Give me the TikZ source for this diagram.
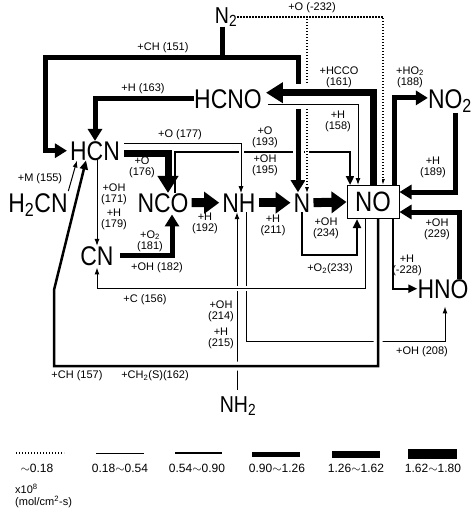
\documentclass[tikz,border=0pt]{standalone}
\usepackage{fontspec}
\setmainfont{Liberation Sans}
\newfontfamily\chemfont[FakeStretch=0.85]{Liberation Sans}
\usetikzlibrary{arrows.meta}

\begin{document}
\begin{tikzpicture}[
  x=1pt, y=-1pt,
  species/.style={font=\chemfont\fontsize{27}{30}\selectfont, inner sep=0pt, anchor=base},
  minor/.style={species, font=\chemfont\fontsize{23}{26}\selectfont},
  nobox/.style={draw, line width=1pt, font=\chemfont\fontsize{28}{30}\selectfont,
                minimum width=52pt, minimum height=33pt, inner sep=0pt},
  lbl/.style={font=\fontsize{11}{11}\selectfont, inner sep=0pt, align=center},
  key/.style={font=\fontsize{12}{12}\selectfont, inner sep=0pt},
  halo/.style={preaction={draw=white, solid, line width=#1, arrows=-}},
  fdot/.style={line width=1.2pt, dash pattern=on 1.2pt off 1.8pt, -{Latex[length=6pt,width=4pt]}},
  fthin/.style={line width=1pt, -{Latex[length=7pt,width=5pt]}},
  fmed/.style={line width=2.5pt, -{Triangle[length=9pt,width=8pt]}},
  fthick/.style={line width=5pt, -{Triangle[length=12pt,width=14pt]}},
  fvthick/.style={line width=7pt, -{Triangle[length=17pt,width=20pt]}},
  fxthick/.style={line width=9pt, -{Triangle[length=15pt,width=21pt]}},
]
\useasboundingbox (0,0) rectangle (474,517);

% ---- species ----------------------------------------------------
\node[minor]   (n2)   at (226,23)  {N\textsubscript{2}};
\node[species] (hcno) at (228,108) {HCNO};
\node[species] (hcn)  at (95,160)  {HCN};
\node[species] (h2cn) at (38,212)  {H\textsubscript{2}CN};
\node[species] (nco)  at (163,212) {NCO};
\node[species] (nh)   at (239,212) {NH};
\node[species] (nn)   at (302,212) {N};
\node[nobox]   (no)   at (373,202) {NO};
\node[species] (no2)  at (450,108) {NO\textsubscript{2}};
\node[species] (cn)   at (97,265)  {CN};
\node[species] (hno)  at (443,298) {HNO};
\node[minor]   (nh2)  at (238,412) {NH\textsubscript{2}};

% ---- paths under the crossings ----------------------------------
\draw[fmed] ([xshift=12pt]nco.north) |- (350,152) -- ([xshift=-23pt]no.north);
\draw[fthin, shorten <=6pt] ([xshift=-1pt]nh2.north) -- ([xshift=-2pt]nh.south);
\draw[fthin, shorten >=8pt] ([xshift=7pt]nh.south) |- (445,341) -- ([xshift=2pt]hno.south);
\draw[fthin, halo=5pt, shorten >=2pt] ([xshift=-8pt]no.south) |- (97,288) -- (cn.south);
\draw[fmed, halo=9pt] ([xshift=5pt]no.south) |- (54,366) -- (54,290) -- ([xshift=-9pt]hcn.south);
\draw[fthin, halo=5pt] ([xshift=4pt,yshift=7pt]hcn.east) -| ([xshift=2pt]nh.north);
\draw[fthick, halo=11pt, shorten >=1pt] ([xshift=-4pt]n2.south) |- (298,57) -- ([xshift=-4pt]nn.north);
\draw[fdot, halo=4pt] (n2.east) -| ([xshift=10pt]no.north);
\draw[fdot, halo=4pt] (n2.east) -| ([xshift=5pt]nn.north);
\draw[fthin, halo=9pt] ([xshift=6pt,yshift=-6pt]hcno.east) -| ([xshift=-15pt]no.north);
\draw[fvthick, halo=17pt, shorten >=4pt] (no.north) |- ([yshift=6pt]hcno.east);

% ---- remaining connectors ---------------------------------------
\draw[fthick, shorten >=3pt] ([xshift=-4pt]n2.south) |- (45,57) |- (hcn.west);
\draw[fthick] (hcno.west) -| (hcn.north);
\draw[fvthick] ([xshift=4pt,yshift=-3pt]hcn.east) -| ([xshift=5pt]nco.north);
\draw[fxthick, shorten <=3pt, shorten >=3pt] (nco.east) -- (nh.west);
\draw[fxthick, shorten <=3pt, shorten >=3pt] (nh.east) -- (nn.west);
\draw[fxthick, shorten <=3pt] (nn.east) -- (no.west);
\draw[fmed] (nn.south) |- (357,255) -- ([xshift=-16pt]no.south);
\draw[fmed, line width=2pt] ([xshift=20pt]no.south) |- (hno.west);
\draw[fthick] ([xshift=21pt]no.north) |- ([yshift=3pt]no2.west);
\draw[fthick] ([xshift=5pt]no2.south) |- ([yshift=10pt]no.east);
\draw[fthick] ([xshift=16pt]hno.north) |- ([yshift=-10pt]no.east);
\draw[fthin] ([xshift=2pt]hcn.south) -- (cn.north);
\draw[fthick, shorten >=2pt] ([xshift=6pt]cn.east) -| ([xshift=9pt]nco.south);
\draw[fthin, shorten <=2pt] (h2cn.north east) -- ([xshift=-18pt]hcn.south);

% ---- reaction labels --------------------------------------------
\node[lbl] (l151) at (163,48)  {+CH (151)};
\node[lbl] (l163) at (143,89)  {+H (163)};
\node[lbl] (l232) at (312,8)   {+O (-232)};
\node[lbl] (l161) at (339,77)  {+HCCO\\(161)};
\node[lbl] (l188) at (410,77)  {+HO\textsubscript{2}\\(188)};
\node[lbl] (l158) at (338,121) {+H\\(158)};
\node[lbl] (l177) at (180,135) {+O (177)};
\node[lbl] (l176) at (142,167) {+O\\(176)};
\node[lbl] (l193) at (265,137) {+O\\(193)};
\node[lbl] (l195) at (265,165) {+OH\\(195)};
\node[lbl] (l189) at (433,167) {+H\\(189)};
\node[lbl] (l155) at (40,179)  {+M (155)};
\node[lbl] (l171) at (114,194) {+OH\\(171)};
\node[lbl] (l179) at (114,219) {+H\\(179)};
\node[lbl] (l192) at (205,223) {+H\\(192)};
\node[lbl] (l211) at (273,225) {+H\\(211)};
\node[lbl] (l234) at (326,228) {+OH\\(234)};
\node[lbl] (l229) at (437,229) {+OH\\(229)};
\node[lbl] (l181) at (150,241) {+O\textsubscript{2}\\(181)};
\node[lbl] (l182) at (157,268) {+OH (182)};
\node[lbl] (l228) at (407,265) {+H\\(-228)};
\node[lbl] (l233) at (330,269) {+O\textsubscript{2}(233)};
\node[lbl] (l156) at (145,300) {+C (156)};
\node[lbl] (l214) at (221,311) {+OH\\(214)};
\node[lbl] (l215) at (221,338) {+H\\(215)};
\node[lbl] (l208) at (422,352) {+OH (208)};
\node[lbl] (l157) at (77,376)  {+CH (157)};
\node[lbl] (l162) at (155,376) {+CH\textsubscript{2}(S)(162)};

% ---- legend -----------------------------------------------------
\draw[line width=1.2pt, dash pattern=on 1.2pt off 1.8pt] (16,453) -- (64,453);
\draw[line width=1pt]   (96,453)  -- (144,453);
\draw[line width=2.5pt] (175,453) -- (222,453);
\draw[line width=5pt]   (252,454) -- (300,454);
\draw[line width=7pt]   (332,454) -- (380,454);
\draw[line width=10pt]  (408,454) -- (457,454);
\node[key] (k1) at (37,468)  {$\sim$0.18};
\node[key] (k2) at (120,468) {0.18$\sim$0.54};
\node[key] (k3) at (197,468) {0.54$\sim$0.90};
\node[key] (k4) at (277,468) {0.90$\sim$1.26};
\node[key] (k5) at (356,468) {1.26$\sim$1.62};
\node[key] (k6) at (433,468) {1.62$\sim$1.80};
\node[key, anchor=west, font=\fontsize{11}{11}\selectfont] (unit)  at (15,489) {x10\textsuperscript{8}};
\node[key, anchor=west, font=\fontsize{11}{11}\selectfont] (unitb) at (15,502) {(mol/cm\textsuperscript{2}-s)};

\end{tikzpicture}
\end{document}
